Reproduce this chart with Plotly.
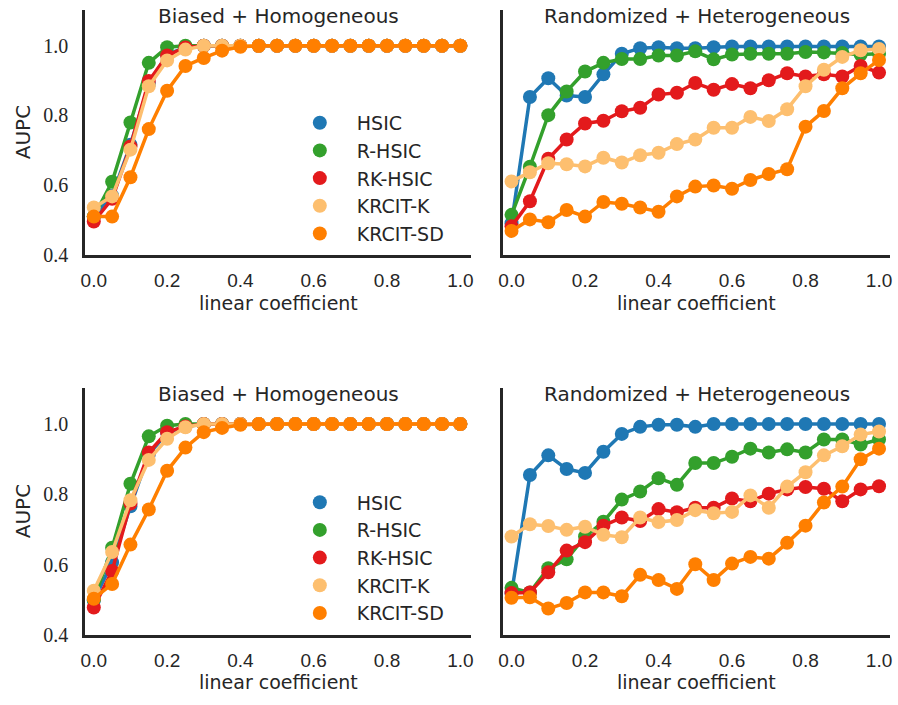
import plotly.graph_objects as go

# ---------------- data ----------------
coef = [round(i * 0.05, 2) for i in range(21)]
methods = ["HSIC", "R-HSIC", "RK-HSIC", "KRCIT-K", "KRCIT-SD"]
colors = ["#1f78b4", "#33a02c", "#e31a1c", "#fdbf6f", "#ff7f00"]

# top-left : Biased + Homogeneous (row 1)
tl_hsic = [0.51, 0.57, 0.716, 0.89, 0.975, 0.995] + [1.0] * 15
tl_rhsic = [0.51, 0.61, 0.78, 0.951, 0.996, 1.0] + [1.0] * 15
tl_rkhsic = [0.496, 0.561, 0.711, 0.899, 0.972, 0.995] + [1.0] * 15
tl_krcitk = [0.536, 0.568, 0.702, 0.884, 0.958, 0.989] + [1.0] * 15
tl_krcitsd = [0.51, 0.51, 0.623, 0.761, 0.871, 0.942, 0.965, 0.986, 0.997] + [1.0] * 12

# top-right : Randomized + Heterogeneous (row 1)
tr_hsic = [0.491, 0.853, 0.907, 0.857, 0.853, 0.918, 0.977, 0.993, 0.996, 0.993, 0.993,
           0.996, 0.998, 0.998, 0.998, 0.998, 0.998, 0.998, 0.998, 0.998, 0.998]
tr_rhsic = [0.515, 0.653, 0.801, 0.869, 0.926, 0.951, 0.962, 0.962, 0.972, 0.972, 0.984,
            0.961, 0.975, 0.977, 0.977, 0.977, 0.982, 0.981, 0.979, 0.975, 0.977]
tr_rkhsic = [0.482, 0.554, 0.676, 0.731, 0.777, 0.785, 0.812, 0.822, 0.860, 0.865, 0.893,
             0.874, 0.890, 0.878, 0.901, 0.921, 0.912, 0.918, 0.912, 0.942, 0.923]
tr_krcitk = [0.611, 0.637, 0.663, 0.660, 0.654, 0.679, 0.665, 0.686, 0.693, 0.718, 0.731,
             0.765, 0.765, 0.796, 0.784, 0.818, 0.884, 0.931, 0.968, 0.987, 0.991]
tr_krcitsd = [0.469, 0.502, 0.494, 0.529, 0.510, 0.552, 0.547, 0.536, 0.524, 0.568, 0.596,
              0.599, 0.590, 0.615, 0.632, 0.646, 0.768, 0.813, 0.878, 0.921, 0.959]

# bottom-left : Biased + Homogeneous (row 2)
bl_hsic = [0.498, 0.606, 0.766, 0.914, 0.975, 0.993] + [1.0] * 15
bl_rhsic = [0.50, 0.648, 0.830, 0.965, 0.995, 1.0] + [1.0] * 15
bl_rkhsic = [0.478, 0.582, 0.774, 0.919, 0.977, 0.993] + [1.0] * 15
bl_krcitk = [0.526, 0.636, 0.783, 0.898, 0.958, 0.991] + [1.0] * 15
bl_krcitsd = [0.503, 0.545, 0.657, 0.757, 0.867, 0.933, 0.977, 0.989, 0.998] + [1.0] * 12

# bottom-right : Randomized + Heterogeneous (row 2)
br_hsic = [0.518, 0.855, 0.911, 0.872, 0.861, 0.921, 0.972, 0.992, 0.998, 0.998, 0.992,
           1.0, 1.0, 1.0, 1.0, 1.0, 1.0, 1.0, 1.0, 1.0, 1.0]
br_rhsic = [0.534, 0.521, 0.590, 0.615, 0.680, 0.722, 0.785, 0.808, 0.846, 0.827, 0.889,
            0.889, 0.907, 0.930, 0.919, 0.928, 0.919, 0.956, 0.956, 0.942, 0.956]
br_rkhsic = [0.519, 0.521, 0.578, 0.640, 0.664, 0.711, 0.734, 0.724, 0.758, 0.749, 0.762,
             0.762, 0.788, 0.780, 0.802, 0.814, 0.821, 0.816, 0.780, 0.814, 0.823]
br_krcitk = [0.680, 0.715, 0.710, 0.699, 0.708, 0.685, 0.678, 0.734, 0.721, 0.727, 0.755,
             0.746, 0.750, 0.797, 0.762, 0.822, 0.863, 0.911, 0.937, 0.970, 0.979]
br_krcitsd = [0.506, 0.507, 0.475, 0.491, 0.521, 0.521, 0.510, 0.571, 0.556, 0.531, 0.601,
              0.556, 0.603, 0.622, 0.617, 0.662, 0.711, 0.777, 0.822, 0.900, 0.930]

panels = [
    ("x", "y", [tl_hsic, tl_rhsic, tl_rkhsic, tl_krcitk, tl_krcitsd]),
    ("x2", "y2", [tr_hsic, tr_rhsic, tr_rkhsic, tr_krcitk, tr_krcitsd]),
    ("x3", "y3", [bl_hsic, bl_rhsic, bl_rkhsic, bl_krcitk, bl_krcitsd]),
    ("x4", "y4", [br_hsic, br_rhsic, br_rkhsic, br_krcitk, br_krcitsd]),
]
titles = ["Biased + Homogeneous", "Randomized + Heterogeneous",
          "Biased + Homogeneous", "Randomized + Heterogeneous"]
ytick_vals = [0.4, 0.6, 0.8, 1.0]
ytick_text = ["0.4", "0.6", "0.8", "1.0"]
xtick_vals = [0.0, 0.2, 0.4, 0.6, 0.8, 1.0]
xtick_text = ["0.0", "0.2", "0.4", "0.6", "0.8", "1.0"]

# ---------------- figure ----------------
W, H = 898, 705
TXT = "#262626"
SANS = "DejaVu Sans"

fig = go.Figure()
for xa, ya, series in panels:
    for name, col, vals in zip(methods, colors, series):
        fig.add_trace(go.Scatter(
            x=coef, y=vals, mode="lines+markers", name=name,
            line=dict(color=col, width=3.5),
            marker=dict(color=col, size=14, line=dict(width=0)),
            xaxis=xa, yaxis=ya, showlegend=False, hoverinfo="skip"))

# legend-only marker entries (two legends, one per left panel)
for leg in ["legend", "legend2"]:
    for name, col in zip(methods, colors):
        fig.add_trace(go.Scatter(
            x=[None], y=[None], mode="markers", name=name,
            marker=dict(color=col, size=14), legend=leg,
            legendgroup=leg + name, xaxis="x", yaxis="y"))

# convert screen pixels to paper fractions
def px_x(p):
    return p / W

def px_y(p):
    return (H - p) / H

x_left = [px_x(81), px_x(470)]
x_right = [px_x(502), px_x(892)]
y_top = [px_y(259), px_y(10)]
y_bot = [px_y(645), px_y(394)]

def xaxis(dom, anchor):
    return dict(domain=dom, anchor=anchor, range=[-0.023, 1.03],
                showline=True, linecolor=TXT, linewidth=3, showgrid=False,
                zeroline=False, ticks="", tickvals=xtick_vals, ticktext=xtick_text,
                tickfont=dict(family="Liberation Sans", size=19, color=TXT),
                ticklabelstandoff=6, fixedrange=True)

def yaxis(dom, anchor, labels):
    return dict(domain=dom, anchor=anchor, range=[0.4, 1.103],
                showline=True, linecolor=TXT, linewidth=3, showgrid=False,
                zeroline=False, ticks="", tickvals=ytick_vals, ticktext=ytick_text,
                showticklabels=labels,
                tickfont=dict(family="Liberation Serif", size=20, color=TXT),
                ticklabelstandoff=10, fixedrange=True)

legend_common = dict(
    font=dict(family=SANS, size=19, color=TXT), bgcolor="rgba(0,0,0,0)",
    itemwidth=64, itemsizing="trace", tracegroupgap=0,
    xanchor="left", yanchor="top", traceorder="grouped")

fig.update_layout(
    width=W, height=H, margin=dict(l=0, r=0, t=0, b=0),
    paper_bgcolor="white", plot_bgcolor="white",
    xaxis=xaxis(x_left, "y"), yaxis=yaxis(y_top, "x", True),
    xaxis2=xaxis(x_right, "y2"), yaxis2=yaxis(y_top, "x2", False),
    xaxis3=xaxis(x_left, "y3"), yaxis3=yaxis(y_bot, "x3", True),
    xaxis4=xaxis(x_right, "y4"), yaxis4=yaxis(y_bot, "x4", False),
    legend=dict(x=px_x(280), y=px_y(105.5), **legend_common),
    legend2=dict(x=px_x(280), y=px_y(491), **legend_common),
)

ann = []
centers_x = [(81 + 470) / 2, (502 + 892) / 2, (81 + 470) / 2, (502 + 892) / 2]
title_y = [16, 16, 400, 400]
xlab_y = [308, 308, 693, 693]
for cx, ty, xy, t in zip(centers_x, title_y, xlab_y, titles):
    ann.append(dict(text=t, x=px_x(cx), y=px_y(ty), xref="paper", yref="paper",
                    xanchor="center", yanchor="middle", showarrow=False,
                    font=dict(family=SANS, size=20, color=TXT)))
    ann.append(dict(text="linear coefficient", x=px_x(cx), y=px_y(xy), xref="paper",
                    yref="paper", xanchor="center", yanchor="middle", showarrow=False,
                    font=dict(family=SANS, size=19, color=TXT)))
for cy in [(10 + 259) / 2, (394 + 645) / 2]:
    ann.append(dict(text="AUPC", x=px_x(19), y=px_y(cy), xref="paper", yref="paper",
                    xanchor="center", yanchor="middle", textangle=-90, showarrow=False,
                    font=dict(family=SANS, size=20, color=TXT)))
fig.update_layout(annotations=ann)

# remove the browser's default 8px page margin so the figure fills the window exactly
fig.write_html("out.html", config={"displayModeBar": False, "staticPlot": True},
               post_script="document.body.style.margin='0';")
